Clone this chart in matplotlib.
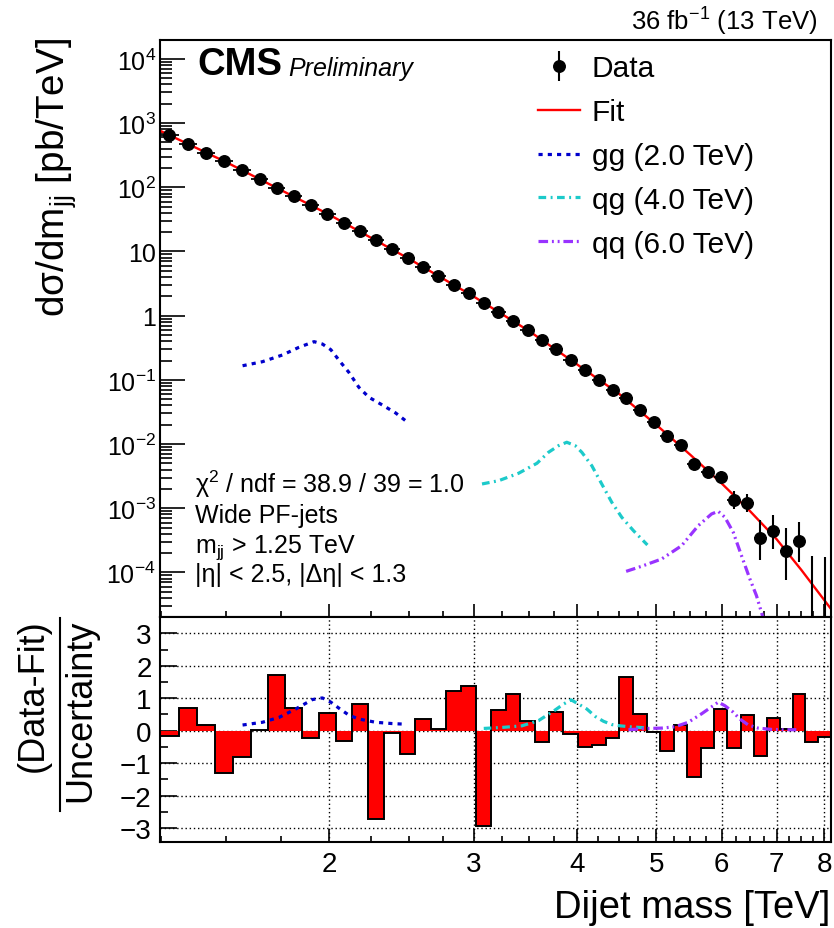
import numpy as np
import matplotlib
matplotlib.use('Agg')
import matplotlib.pyplot as plt
from matplotlib.ticker import FixedLocator, FixedFormatter, NullFormatter, LogLocator, MultipleLocator
from matplotlib.lines import Line2D

plt.rcParams['font.family'] = ['Liberation Sans', 'DejaVu Sans']
plt.rcParams['mathtext.fontset'] = 'custom'
plt.rcParams['mathtext.rm'] = 'Liberation Sans'
plt.rcParams['mathtext.it'] = 'Liberation Sans:italic'
plt.rcParams['mathtext.bf'] = 'Liberation Sans:bold'

# ---------------- data (TeV, pb/TeV) ----------------
bin_edges = [1.246, 1.313, 1.383, 1.455, 1.530, 1.607, 1.687, 1.770, 1.856, 1.945,
             2.037, 2.132, 2.231, 2.332, 2.438, 2.546, 2.659, 2.775, 2.895, 3.019,
             3.147, 3.279, 3.416, 3.558, 3.704, 3.854, 4.010, 4.171, 4.337, 4.509,
             4.686, 4.869, 5.058, 5.253, 5.455, 5.663, 5.877, 6.099, 6.328, 6.564,
             6.808, 7.060, 7.320, 7.589, 7.866, 8.152]

data_xsec = [659, 472, 346, 254, 186, 135, 98.6, 72.4, 53.0, 38.8,
             28.1, 20.6, 15.1, 10.9, 7.92, 5.80, 4.20, 3.04, 2.26, 1.56,
             1.15, 0.836, 0.598, 0.418, 0.303, 0.206, 0.143, 0.0996, 0.0697, 0.0522,
             0.0343, 0.0219, 0.0135, 0.00979, 0.00490, 0.00364, 0.00304, 0.00135, 0.00121, 0.000344,
             0.000448, 0.000214, 0.000313, 0.0, 0.0]

err_dn = [0]*34 + [0.0008, 0.0007, 0.0006, 3.75e-4, 3.43e-4, 1.86e-4, 2.16e-4, 1.37e-4, 1.69e-4, 0.0, 0.0]
err_up = [0]*34 + [0.0009, 0.0008, 0.0007, 5.1e-4, 4.6e-4, 3.2e-4, 3.46e-4, 2.79e-4, 3.05e-4, 1.83e-4, 1.77e-4]

residuals = [-0.17, 0.69, 0.19, -1.29, -0.82, 0.01, 1.73, 0.69, -0.23, 0.54,
             -0.31, 0.82, -2.71, -0.06, -0.72, 0.35, 0.04, 1.22, 1.37, -2.94,
             0.64, 1.12, 0.29, -0.34, 0.58, -0.09, -0.49, -0.43, -0.21, 1.64,
             0.51, -0.03, -0.64, 0.19, -1.44, -0.54, 0.67, -0.54, 0.47, -0.78,
             0.39, 0.06, 1.14, -0.34, -0.19]

fit_mass = [1.246, 1.5, 2.0, 2.5, 3.0, 3.5, 4.0, 4.5, 5.0, 5.5, 6.0, 6.5, 7.0, 7.5, 8.152]
fit_xsec = [762, 246, 37.6, 7.73, 1.98, 0.578, 0.176, 0.0612, 0.0199, 6.78e-3, 2.45e-3, 9.0e-4, 3.3e-4, 1.1e-4, 2.7e-5]

gg_mass = [1.570, 1.660, 1.755, 1.839, 1.918, 1.963, 2.010, 2.066, 2.114, 2.174, 2.236, 2.321, 2.410, 2.478]
gg_xsec = [0.166, 0.192, 0.244, 0.322, 0.394, 0.362, 0.295, 0.188, 0.131, 0.0767, 0.0536, 0.0407, 0.0305, 0.0231]
qg_mass = [3.069, 3.216, 3.400, 3.579, 3.697, 3.802, 3.891, 3.984, 4.058, 4.173, 4.291, 4.413, 4.538, 4.689, 4.876]
qg_xsec = [0.00239, 0.00269, 0.00351, 0.00502, 0.00745, 0.00944, 0.01067, 0.00944, 0.00745, 0.00461,
           0.00239, 0.00124, 0.000724, 0.000448, 0.000268]
qq_mass = [4.594, 4.799, 5.074, 5.366, 5.622, 5.835, 5.945, 6.057, 6.200, 6.345, 6.496, 6.617, 6.709, 6.85]
qq_xsec = [1.04e-4, 1.25e-4, 1.62e-4, 2.61e-4, 5.36e-4, 8.15e-4, 8.98e-4, 7.24e-4, 4.23e-4, 1.83e-4,
           7.92e-5, 4.35e-5, 2.40e-5, 1.0e-5]

gg_ratio_mass = [1.570, 1.660, 1.739, 1.822, 1.909, 1.963, 2.010, 2.057, 2.114, 2.174, 2.278, 2.386, 2.478]
gg_ratio = [0.175, 0.26, 0.41, 0.67, 0.96, 1.01, 0.88, 0.69, 0.48, 0.36, 0.26, 0.22, 0.20]
qg_ratio_mass = [3.084, 3.245, 3.432, 3.595, 3.767, 3.855, 3.939, 4.021, 4.115, 4.213, 4.312, 4.413, 4.517, 4.645, 4.777, 4.889]
qg_ratio = [0.07, 0.10, 0.15, 0.31, 0.64, 0.82, 0.95, 0.82, 0.67, 0.44, 0.29, 0.19, 0.15, 0.12, 0.10, 0.08]
qq_ratio_mass = [4.624, 4.889, 5.074, 5.267, 5.467, 5.674, 5.862, 5.945, 6.057, 6.200, 6.316, 6.464, 6.648, 6.900, 7.162, 7.398]
qq_ratio = [0.03, 0.07, 0.08, 0.12, 0.26, 0.52, 0.77, 0.88, 0.77, 0.57, 0.36, 0.18, 0.08, 0.04, 0.03, 0.03]

signal_labels = ['gg (2.0 TeV)', 'qg (4.0 TeV)', 'qq (6.0 TeV)']
xtick_major = [2, 3, 4, 5, 6, 7, 8]
xtick_minor = [1.25, 1.5, 1.75, 2.25, 2.5, 2.75, 3.25, 3.5, 3.75, 4.25, 4.5, 4.75, 5.25, 5.5, 5.75,
               6.25, 6.5, 6.75, 7.25, 7.5, 7.75]
ytick_exps = [-4, -3, -2, -1, 0, 1, 2, 3, 4]

# ---------------- styles ----------------
C_GG = '#0000cc'
C_QG = '#1ccaca'
C_QQ = '#9933ff'
LS_GG = (0, (1.3, 1.6))
LS_QG = (0, (2.4, 1.4, 0.6, 1.4))
LS_QQ = (0, (3.0, 1.2, 0.6, 1.2, 0.6, 1.2))
LW_SIG = 2.3

W, H = 834, 929
fig = plt.figure(figsize=(W / 100, H / 100), dpi=100)

def fx(px):
    return px / W

def fy(py):
    return 1 - py / H

ax_left, ax_right = 160, 831
up_top, split, lo_bot = 41, 617.5, 843.3
ax1 = fig.add_axes([fx(ax_left), fy(split), fx(ax_right) - fx(ax_left), fy(up_top) - fy(split)])
ax2 = fig.add_axes([fx(ax_left), fy(lo_bot), fx(ax_right) - fx(ax_left), fy(split) - fy(lo_bot)], sharex=ax1)

edges = np.array(bin_edges)
centers = 0.5 * (edges[:-1] + edges[1:])
vals = np.array(data_xsec)
edn = np.array(err_dn)
eup = np.array(err_up)
nz = vals > 0

# ---------------- upper panel ----------------
ax1.set_xscale('log')
ax1.set_yscale('log')
ax1.set_xlim(bin_edges[0], bin_edges[-1])
ylo, yhi = 2.06e-5, 1.97e4
ax1.set_ylim(ylo, yhi)

fit_line, = ax1.plot(fit_mass, fit_xsec, color='#ff0000', lw=1.7, zorder=2)
gg_line, = ax1.plot(gg_mass, gg_xsec, color=C_GG, lw=LW_SIG, ls=LS_GG, zorder=2)
qg_line, = ax1.plot(qg_mass, qg_xsec, color=C_QG, lw=LW_SIG, ls=LS_QG, zorder=2)
qq_line, = ax1.plot(qq_mass, qq_xsec, color=C_QQ, lw=LW_SIG, ls=LS_QQ, zorder=2)

ax1.hlines(vals[nz], edges[:-1][nz], edges[1:][nz], color='black', lw=1.3, zorder=3)
data_cont = ax1.errorbar(centers[nz], vals[nz], yerr=[edn[nz], eup[nz]], fmt='o', color='black',
                         ms=8.3, lw=1.5, capsize=0, zorder=4)
# empty bins: upper Poisson error only
ax1.vlines(centers[~nz], ylo, eup[~nz], color='black', lw=1.5, zorder=4)

ax1.yaxis.set_major_locator(FixedLocator([10.0 ** e for e in ytick_exps]))
ylabels = []
for e in ytick_exps:
    if e == 0:
        ylabels.append('1')
    elif e == 1:
        ylabels.append('10')
    else:
        ylabels.append('$10^{%d}$' % e)
ax1.yaxis.set_major_formatter(FixedFormatter(ylabels))
ax1.yaxis.set_minor_locator(LogLocator(base=10, subs=np.arange(2, 10), numticks=20))
ax1.yaxis.set_minor_formatter(NullFormatter())
ax1.xaxis.set_major_locator(FixedLocator(xtick_major))
ax1.xaxis.set_minor_locator(FixedLocator(xtick_minor))
ax1.xaxis.set_minor_formatter(NullFormatter())
ax1.tick_params(axis='x', which='both', labelbottom=False, direction='in', top=False)
ax1.tick_params(axis='x', which='major', length=9.5, width=1.2)
ax1.tick_params(axis='x', which='minor', length=4.5, width=1.2)
ax1.tick_params(axis='y', which='major', direction='in', length=18, width=1.2, labelsize=18, pad=3)
ax1.tick_params(axis='y', which='minor', direction='in', length=8.5, width=1.2)
for s in ax1.spines.values():
    s.set_linewidth(1.5)

leg = ax1.legend([data_cont, fit_line, gg_line, qg_line, qq_line],
                 ['Data', 'Fit'] + signal_labels,
                 loc='upper left', bbox_to_anchor=((538 - ax_left) / (ax_right - ax_left), 0.975),
                 frameon=False, fontsize=21.5, handlelength=1.4, handletextpad=0.4,
                 labelspacing=0.53, borderpad=0, borderaxespad=0)

# ---------------- lower panel ----------------
ax2.set_ylim(-3.44, 3.52)
ax2.stairs(residuals, bin_edges, fill=True, color='#ff0000', zorder=2)
ax2.stairs(residuals, bin_edges, color='black', lw=1.4, zorder=3)
ax2.plot(gg_ratio_mass, gg_ratio, color=C_GG, lw=LW_SIG, ls=LS_GG, zorder=4)
ax2.plot(qg_ratio_mass, qg_ratio, color=C_QG, lw=LW_SIG, ls=LS_QG, zorder=4)
ax2.plot(qq_ratio_mass, qq_ratio, color=C_QQ, lw=LW_SIG, ls=LS_QQ, zorder=4)

ax2.xaxis.set_major_locator(FixedLocator(xtick_major))
ax2.xaxis.set_major_formatter(FixedFormatter([str(v) for v in xtick_major]))
ax2.xaxis.set_minor_locator(FixedLocator(xtick_minor))
ax2.xaxis.set_minor_formatter(NullFormatter())
ax2.yaxis.set_major_locator(MultipleLocator(1))
ax2.yaxis.set_minor_locator(MultipleLocator(0.5))
ax2.tick_params(axis='x', which='major', direction='in', length=9.5, width=1.2, labelsize=20, pad=6)
ax2.tick_params(axis='x', which='minor', direction='in', length=4.5, width=1.2)
ax2.tick_params(axis='y', which='major', direction='in', length=12, width=1.2, labelsize=20, pad=6)
ax2.tick_params(axis='y', which='minor', direction='in', length=6, width=1.2)
ax2.grid(True, which='major', color='black', ls=(0, (1, 2)), lw=1.0, zorder=1)
ax2.set_axisbelow(True)
for s in ax2.spines.values():
    s.set_linewidth(1.5)

# ---------------- texts ----------------
fig.text(fx(197), fy(75), 'CMS', fontsize=27.5, fontweight='bold', ha='left', va='baseline')
fig.text(fx(288), fy(76), 'Preliminary', fontsize=18, fontstyle='italic', ha='left', va='baseline')
fig.text(fx(818), fy(31), '36 fb$^{-1}$ (13 TeV)', fontsize=18.5, ha='right', va='baseline')

txt_lines = [('χ$^{2}$ / ndf = 38.9 / 39 = 1.0', 493),
             ('Wide PF-jets', 523),
             ('m$_{\\mathregular{jj}}$ > 1.25 TeV', 553),
             ('|η| < 2.5, |Δη| < 1.3', 582)]
for t, py in txt_lines:
    fig.text(fx(195), fy(py), t, fontsize=18, ha='left', va='baseline')

fig.text(fx(57), fy(38), 'dσ/dm$_{\\mathregular{jj}}$ [pb/TeV]', fontsize=27.8, rotation=90,
         ha='center', va='top')
fig.text(fx(33), fy(619), '(Data-Fit)', fontsize=26, rotation=90, ha='center', va='top')
fig.text(fx(81), fy(619), 'Uncertainty', fontsize=26, rotation=90, ha='center', va='top')
fig.add_artist(Line2D([fx(60), fx(60)], [fy(619), fy(812)], color='black', lw=1.5))
fig.text(fx(830), fy(918), 'Dijet mass [TeV]', fontsize=27.5, ha='right', va='baseline')

fig.savefig('out.png', dpi=100)
